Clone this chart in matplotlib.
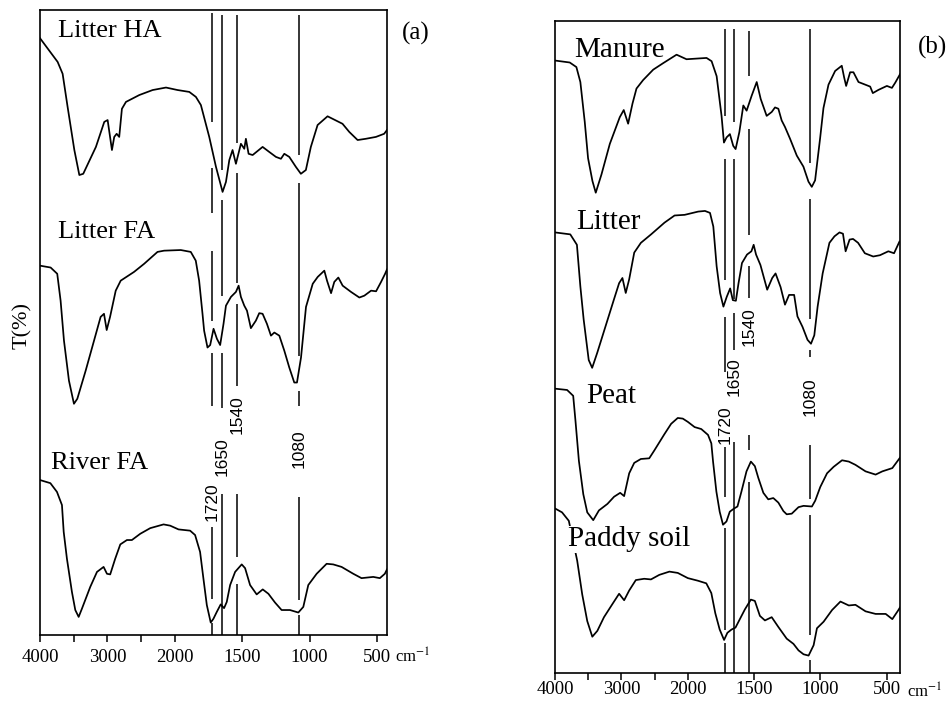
import matplotlib
matplotlib.use('Agg')
import matplotlib.pyplot as plt
import numpy as np

plt.rcParams['font.family'] = 'Liberation Serif'
plt.rcParams['mathtext.fontset'] = 'stix'

# ---- spectra (wavenumber cm-1, transmittance in arbitrary %) ----

# panel (a)
litter_ha_wn = [4000, 3738, 3664, 3590, 3490, 3416, 3358, 3170, 3046, 2996, 2932, 2898, 2862, 2824,
                2784, 2724, 2526, 2328, 2130, 1979, 1892, 1843, 1806, 1744, 1694, 1645, 1620, 1595,
                1571, 1546, 1509, 1484, 1472, 1452, 1422, 1348, 1299, 1249, 1212, 1187, 1150, 1101,
                1064, 1027, 990, 940, 866, 829, 755, 705, 643, 582, 507, 446, 425]
litter_ha_t = [95.5, 91.7, 89.8, 84.5, 77.6, 73.6, 73.8, 78.1, 82.1, 82.4, 77.6, 79.7, 80.2, 79.7,
               84.2, 85.3, 86.4, 87.2, 87.6, 87.2, 86.9, 86.1, 84.8, 79.7, 74.9, 70.9, 72.5, 76.0,
               77.6, 75.4, 78.6, 77.8, 79.4, 77.0, 76.8, 78.1, 77.3, 76.5, 76.2, 77.0, 76.5, 74.9,
               73.8, 74.4, 78.1, 81.6, 83.0, 82.6, 81.8, 80.5, 79.2, 79.4, 79.7, 80.2, 80.8]

litter_fa_wn = [4000, 3842, 3744, 3694, 3644, 3570, 3496, 3446, 3322, 3198, 3100, 3050, 3010, 2960,
                2876, 2802, 2604, 2454, 2256, 2158, 1955, 1881, 1844, 1819, 1794, 1782, 1757, 1737,
                1712, 1687, 1663, 1638, 1620, 1583, 1546, 1526, 1509, 1484, 1464, 1435, 1398, 1373,
                1348, 1316, 1286, 1261, 1224, 1187, 1150, 1113, 1093, 1063, 1026, 976, 939, 890,
                870, 840, 816, 786, 754, 692, 630, 593, 543, 506, 469, 439, 425]
litter_fa_t = [59.1, 58.8, 57.8, 53.5, 47.1, 40.7, 37.0, 37.8, 42.3, 47.1, 50.9, 51.4, 48.8, 50.9,
               55.1, 56.7, 58.1, 59.4, 61.3, 61.5, 61.6, 61.3, 59.9, 56.7, 51.4, 48.7, 46.0, 46.4,
               49.0, 47.4, 46.4, 49.8, 52.7, 54.1, 54.9, 55.9, 54.1, 52.7, 51.9, 49.1, 50.3, 51.5,
               51.4, 49.8, 47.9, 48.4, 47.9, 45.5, 42.8, 40.4, 40.4, 44.4, 52.5, 56.2, 57.3, 58.3,
               56.7, 54.7, 56.5, 57.2, 55.9, 54.9, 54.0, 54.3, 55.1, 55.0, 56.5, 57.8, 58.5]

river_fa_wn = [4000, 3846, 3748, 3674, 3648, 3600, 3526, 3476, 3426, 3378, 3254, 3154, 3056, 3006,
               2958, 2884, 2808, 2710, 2636, 2512, 2364, 2166, 2068, 1972, 1886, 1849, 1812, 1787,
               1762, 1733, 1713, 1688, 1659, 1634, 1614, 1589, 1552, 1503, 1478, 1441, 1392, 1347,
               1305, 1256, 1207, 1145, 1083, 1046, 1009, 947, 873, 824, 762, 675, 614, 527, 478,
               441, 425]
river_fa_t = [24.8, 24.3, 22.9, 20.8, 16.5, 12.2, 6.9, 4.0, 2.9, 4.2, 7.7, 10.1, 10.9, 9.8,
              9.7, 12.2, 14.5, 15.2, 15.2, 16.2, 17.1, 17.7, 17.5, 16.9, 16.7, 16.0, 13.3, 9.0,
              4.8, 2.0, 2.6, 3.7, 4.9, 4.3, 5.3, 8.0, 10.1, 11.3, 10.7, 8.0, 6.5, 7.3,
              6.6, 5.2, 4.0, 4.0, 3.6, 4.5, 8.0, 9.8, 11.4, 11.3, 10.9, 9.8, 9.1, 9.3, 9.1,
              9.8, 10.5]

# panel (b)
manure_wn = [4000, 3778, 3678, 3618, 3552, 3502, 3436, 3386, 3300, 3174, 3024, 2964, 2898, 2832,
             2772, 2672, 2520, 2370, 2168, 2018, 1858, 1820, 1782, 1745, 1727, 1707, 1682, 1657,
             1639, 1611, 1581, 1556, 1518, 1480, 1450, 1405, 1367, 1342, 1317, 1292, 1267, 1229,
             1178, 1128, 1090, 1065, 1040, 1002, 977, 939, 889, 839, 821, 806, 776, 751, 713,
             675, 625, 605, 562, 499, 461, 436, 400]
manure_t = [94.0, 93.7, 93.0, 90.7, 84.6, 79.0, 75.5, 73.7, 76.5, 81.2, 85.3, 86.4, 84.3, 87.4,
            89.7, 91.0, 92.6, 93.6, 94.9, 94.2, 94.4, 93.9, 91.6, 85.5, 81.4, 82.2, 82.7, 80.9,
            80.4, 83.0, 87.1, 86.3, 88.6, 90.7, 88.1, 85.5, 86.1, 86.8, 86.6, 84.8, 83.8, 82.0,
            79.4, 77.7, 75.4, 74.6, 75.6, 82.1, 86.7, 90.3, 92.4, 93.2, 91.4, 90.1, 92.2, 92.2, 90.7,
            90.4, 90.0, 89.0, 89.5, 90.1, 89.8, 90.6, 91.9]

litter_wn = [4000, 3770, 3670, 3618, 3568, 3492, 3440, 3364, 3238, 3112, 3034, 2984, 2934, 2882,
             2806, 2706, 2552, 2350, 2198, 2046, 1921, 1870, 1832, 1807, 1782, 1756, 1731, 1706,
             1680, 1660, 1637, 1617, 1591, 1553, 1520, 1503, 1485, 1452, 1401, 1363, 1338, 1300,
             1267, 1236, 1198, 1173, 1135, 1097, 1071, 1046, 1021, 983, 932, 894, 856, 830, 810,
             780, 754, 716, 665, 602, 551, 488, 445, 404]
litter_t = [67.6, 67.3, 65.7, 59.3, 54.2, 48.0, 46.8, 49.1, 53.2, 57.3, 59.8, 60.6, 58.3, 60.4,
            64.5, 66.0, 67.3, 69.1, 70.2, 70.3, 70.8, 70.9, 70.6, 68.5, 62.4, 58.3, 56.2, 57.7,
            59.0, 57.2, 57.1, 59.8, 62.9, 64.2, 64.7, 65.7, 64.2, 62.6, 58.8, 60.6, 61.3, 59.2,
            56.5, 58.0, 58.0, 54.7, 53.1, 51.1, 50.5, 51.8, 56.2, 61.3, 66.0, 67.0, 67.6, 67.4, 64.7,
            66.5, 66.6, 66.0, 64.4, 63.9, 64.1, 64.7, 64.4, 66.2]

peat_wn = [4000, 3818, 3726, 3692, 3640, 3574, 3514, 3424, 3338, 3210, 3110, 3018, 2958, 2882,
           2806, 2706, 2580, 2504, 2352, 2250, 2150, 2074, 1999, 1948, 1898, 1847, 1822, 1809,
           1784, 1759, 1734, 1708, 1683, 1650, 1625, 1595, 1557, 1524, 1494, 1468, 1430, 1393,
           1355, 1317, 1279, 1254, 1216, 1165, 1127, 1064, 1039, 1001, 950, 900, 837, 786, 736,
           660, 584, 533, 458, 400]
peat_t = [43.6, 43.4, 42.5, 38.7, 32.5, 27.4, 24.6, 23.4, 24.9, 25.9, 27.0, 27.6, 27.1, 30.6,
          32.2, 32.8, 32.9, 34.1, 36.6, 38.2, 39.1, 39.0, 38.5, 37.7, 37.4, 36.5, 35.2, 32.4,
          27.8, 24.7, 22.7, 23.2, 24.7, 25.2, 25.5, 27.8, 30.9, 32.4, 31.7, 29.9, 27.6, 26.6,
          26.8, 26.1, 24.8, 24.3, 24.4, 25.4, 25.6, 25.5, 26.4, 28.5, 30.6, 31.6, 32.6, 32.4, 31.9,
          30.9, 30.4, 30.9, 31.4, 33.0]

paddy_wn = [4000, 3894, 3792, 3666, 3590, 3514, 3438, 3362, 3262, 3136, 3034, 2958, 2882, 2782,
            2656, 2554, 2428, 2276, 2150, 1999, 1923, 1860, 1822, 1792, 1759, 1726, 1701, 1670,
            1640, 1607, 1569, 1524, 1494, 1456, 1418, 1367, 1317, 1254, 1203, 1165, 1127, 1089,
            1051, 1026, 976, 912, 849, 786, 736, 660, 584, 508, 458, 412, 400]
paddy_t = [25.2, 24.6, 23.3, 17.2, 12.0, 7.9, 5.5, 6.4, 8.5, 10.5, 12.1, 11.1, 12.6, 14.2,
           14.4, 14.3, 15.0, 15.5, 15.3, 14.5, 14.1, 13.7, 12.2, 9.1, 6.6, 5.0, 6.1, 6.6,
           6.9, 8.2, 9.7, 11.2, 11.0, 8.7, 8.0, 8.5, 7.0, 5.2, 4.4, 3.4, 2.8, 2.6,
           4.2, 6.8, 7.8, 9.6, 10.9, 10.3, 10.4, 9.4, 9.0, 9.0, 8.2, 9.6, 10.0]

# band assignments (cm-1) and the pieces of each marker line (T ranges between curves)
bands = [1720, 1650, 1540, 1080]
band_labels = ['1720', '1650', '1540', '1080']

segs_a = {1720: [(99.5, 82.1), (74.8, 67.5), (61.5, 50.3), (45.2, 36.7), (17.3, 5.8), (1.9, 0)],
          1650: [(99.2, 74.4), (69.6, 54.3), (45.2, 36.4), (22.6, 0)],
          1540: [(99.2, 78.7), (74.0, 56.4), (53.0, 39.9), (22.6, 12.5), (8.2, 0)],
          1080: [(99.2, 76.8), (72.3, 44.7), (39.1, 36.7), (22.1, 5.6), (3.2, 0)]}
label_t_a = {1720: 21.3, 1650: 28.5, 1540: 35.3, 1080: 29.8}

segs_b = {1720: [(98.9, 85.5), (78.9, 60.3), (54.6, 46.2), (34.6, 26.9), (22.2, 6.6), (4.5, 0)],
          1650: [(98.9, 84.6), (78.9, 57.4), (55.2, 49.5), (35.4, 0)],
          1540: [(98.6, 91.7), (83.5, 67.2), (62.5, 57.6), (36.5, 34.2), (29.3, 0)],
          1080: [(98.9, 78.3), (72.7, 54.3), (49.6, 48.5), (35.0, 26.6), (24.2, 5.7), (1.9, 0)]}
label_t_b = {1720: 38.1, 1650: 45.5, 1540: 53.2, 1080: 42.3}

ticks = [4000, 3500, 3000, 2500, 2000, 1500, 1000, 500]
tick_labels = ['4000', '', '3000', '', '2000', '1500', '1000', '500']


# the IR axis is compressed by 2 above 2000 cm-1
def fwd(w):
    w = np.asarray(w, dtype=float)
    return np.where(w > 2000, 2000 + (w - 2000) / 2.0, w)


def inv(v):
    v = np.asarray(v, dtype=float)
    return np.where(v > 2000, 2000 + (v - 2000) * 2.0, v)


def style(ax, right_end, pad):
    ax.set_xscale('function', functions=(fwd, inv))
    ax.set_xlim(4000, right_end)
    ax.set_ylim(0, 100)
    ax.set_xticks(ticks)
    ax.set_xticklabels(tick_labels)
    ax.set_yticks([])
    ax.tick_params(axis='x', direction='out', length=5, width=1.1, labelsize=13.5, pad=pad)
    ax.minorticks_off()
    for s in ax.spines.values():
        s.set_linewidth(1.2)


def draw_bands(ax, segs, label_t):
    for b, txt in zip(bands, band_labels):
        for y0, y1 in segs[b]:
            ax.vlines(b, y1, y0, color='black', lw=1.1)
        ax.text(b, label_t[b], txt, rotation=90, ha='center', va='center',
                fontsize=12.5, family='Liberation Sans')


fig = plt.figure(figsize=(9.52, 7.02), dpi=100)
ax_a = fig.add_axes([0.0420, 0.0954, 0.3645, 0.8903])
ax_b = fig.add_axes([0.5830, 0.0420, 0.3624, 0.9274])

# panel (a)
style(ax_a, 425, 5)
for wn, t in [(litter_ha_wn, litter_ha_t), (litter_fa_wn, litter_fa_t), (river_fa_wn, river_fa_t)]:
    ax_a.plot(wn, t, color='black', lw=1.25)
draw_bands(ax_a, segs_a, label_t_a)
ax_a.text(0.052, 0.957, 'Litter HA', transform=ax_a.transAxes, fontsize=19, va='baseline')
ax_a.text(0.052, 0.636, 'Litter FA', transform=ax_a.transAxes, fontsize=19, va='baseline')
ax_a.text(0.032, 0.265, 'River FA', transform=ax_a.transAxes, fontsize=19, va='baseline')
ax_a.text(1.043, 0.952, '(a)', transform=ax_a.transAxes, fontsize=18, va='baseline')
ax_a.text(1.022, -0.045, 'cm$^{-1}$', transform=ax_a.transAxes, fontsize=12, va='baseline')
ax_a.set_ylabel('T(%)', fontsize=16)
ax_a.yaxis.set_label_coords(-0.023, 0.496)

# panel (b)
style(ax_b, 400, 1)
for wn, t in [(manure_wn, manure_t), (litter_wn, litter_t), (peat_wn, peat_t), (paddy_wn, paddy_t)]:
    ax_b.plot(wn, t, color='black', lw=1.25)
draw_bands(ax_b, segs_b, label_t_b)
ax_b.text(0.055, 0.946, 'Manure', transform=ax_b.transAxes, fontsize=21, va='baseline')
ax_b.text(0.061, 0.682, 'Litter', transform=ax_b.transAxes, fontsize=21, va='baseline')
ax_b.text(0.090, 0.414, 'Peat', transform=ax_b.transAxes, fontsize=21, va='baseline')
ax_b.text(0.038, 0.194, 'Paddy soil', transform=ax_b.transAxes, fontsize=21, va='baseline',
          zorder=5, bbox=dict(facecolor='white', edgecolor='none', pad=0.5))
ax_b.text(1.052, 0.951, '(b)', transform=ax_b.transAxes, fontsize=18, va='baseline')
ax_b.text(1.020, -0.039, 'cm$^{-1}$', transform=ax_b.transAxes, fontsize=12, va='baseline')

fig.savefig('out.png', dpi=100)
